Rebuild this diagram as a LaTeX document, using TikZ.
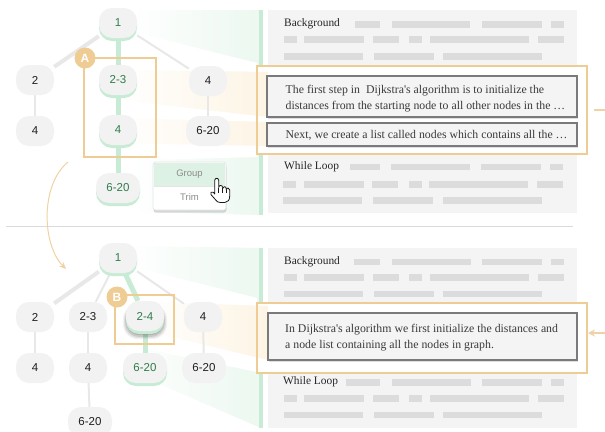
\documentclass[tikz,border=0pt]{standalone}
\usepackage{fontspec}
\setmainfont{Liberation Serif}
\setsansfont{Liberation Sans}
\usetikzlibrary{shadows,arrows.meta,calc}
\definecolor{ngray}{HTML}{F2F2F2}
\definecolor{gline}{HTML}{C8EBD6}
\definecolor{gtext}{HTML}{2F7D4A}
\definecolor{egray}{HTML}{E8E8E8}
\definecolor{org}{HTML}{EFCC94}
\definecolor{panel}{HTML}{F4F4F4}
\definecolor{pbar}{HTML}{DCDCDC}
\definecolor{tbord}{HTML}{7A7A7A}
\definecolor{ttext}{HTML}{3A3A3A}
\definecolor{lorange}{HTML}{FDF4E4}
\definecolor{lgreen}{HTML}{ECF8F0}
\definecolor{mgreen}{HTML}{DDF1E4}
\definecolor{carrow}{HTML}{F0D2A4}
\pgfdeclarelayer{back}
\pgfdeclarelayer{bands}
\pgfdeclarelayer{edges}
\pgfsetlayers{back,bands,edges,main}
% gradient fill of a polygon: #1 path, #2 x from, #3 x to, #4 colour
\newcommand\gradfill[4]{%
  \begin{scope}
  \clip #1;
  \foreach \i in {0,...,23}{%
    \pgfmathsetmacro\xa{#2+(#3-#2)*\i/24}%
    \pgfmathsetmacro\xb{#2+(#3-#2)*(\i+1)/24+0.6}%
    \pgfmathtruncatemacro\pc{(\i+1)*100/24}%
    \fill[#4!\pc!white] (\xa,0) rectangle (\xb,431);
  }
  \end{scope}}
\tikzset{
  tn/.style={rectangle, rounded corners=13pt, fill=ngray, minimum width=38pt, minimum height=30pt,
    inner sep=0pt, font=\sffamily\fontsize{11.5}{13}\selectfont, text=black!88},
  wide/.style={minimum width=44pt},
  gn/.style={tn, text=gtext, general shadow={fill=gline, shadow yshift=-3pt}},
  gnd/.style={tn, text=gtext,
    drop shadow={shadow xshift=0pt, shadow yshift=-5pt, shadow scale=1.16, opacity=0.05, fill=black},
    drop shadow={shadow xshift=0pt, shadow yshift=-5pt, shadow scale=1.10, opacity=0.07, fill=black},
    drop shadow={shadow xshift=0pt, shadow yshift=-5pt, shadow scale=1.04, opacity=0.10, fill=black},
    drop shadow={shadow xshift=0pt, shadow yshift=-4.5pt, shadow scale=0.98, opacity=0.12, fill=black},
    general shadow={fill=gline, shadow yshift=-3pt}},
  thick edge/.style={draw=egray, line width=4pt},
  thin edge/.style={draw=egray, line width=2pt},
  green edge/.style={draw=gline, line width=5pt},
  obox/.style={draw=org, line width=2.5pt, inner sep=0pt},
  hlfill/.style={fill=white, inner sep=0pt},
  badge/.style={circle, fill=org, minimum size=21pt, inner sep=0pt, text=white,
    font=\sffamily\bfseries\fontsize{12}{12}\selectfont},
  tbox/.style={draw=tbord, line width=1.3pt, fill=panel, inner sep=0pt,
    drop shadow={shadow xshift=0.8pt, shadow yshift=-1.5pt, opacity=0.25}},
  ttxt/.style={anchor=west, align=left, inner sep=0pt, text=ttext,
    font=\fontsize{11.8}{16.6}\selectfont},
  hdr/.style={anchor=west, inner sep=0pt, text=black!85, font=\fontsize{11.4}{13}\selectfont},
  gbar/.style={draw=gline, line width=3.5pt},
  menuitem/.style={inner sep=0pt, minimum width=71pt, minimum height=23pt, text=black!45,
    font=\sffamily\fontsize{9.5}{11}\selectfont},
  arrowc/.style={draw=carrow, line width=1pt, -{Stealth[length=7pt,width=6pt]}},
}
\begin{document}
\begin{tikzpicture}[x=1pt,y=-1pt]
\useasboundingbox (0,0) rectangle (605,431);

\begin{pgfonlayer}{back}
\fill[white] (0,0) rectangle (605,431);
% funnels
\gradfill{(133,10) -- (261,10) -- (261,215) -- (140,212) -- cycle}{133}{261}{lgreen}
\fill[white] (137,33) -- (257,63) -- (257,157) -- (150,160) -- (137,150) -- cycle;
\gradfill{(128,246) -- (261,248) -- (261,428) -- (150,380) -- cycle}{128}{261}{lgreen}
\fill[white] (138,268) -- (257,298) -- (257,372) -- (160,352) -- (138,345) -- cycle;
% panels
\fill[panel] (268,10) rectangle (577,213);
\fill[panel] (268,248) rectangle (577,428);
\draw[gbar] (261,10) -- (261,215);
\draw[gbar] (261,248) -- (261,428);
% placeholder bars
\foreach \y/\list in {
  21/{355/380,392/470,482/542,551/564},
  36/{284/297,304/364,373/399,409/422,430/529,538/564},
  53/{284/363,374/434,443/542},
  163.5/{350/380,391/470,481/541,550/563},
  181/{283/296,304/364,372/398,409/422,429/528,537/563},
  197/{283/362,373/433,443/542},
  258.7/{354/380,392/471,482/542,551/564},
  274.3/{284/297,304/364,373/399,409/422,430/529,538/564},
  290.7/{284/363,374/434,443/542},
  379.3/{346/380,392/471,482/542,551/564},
  395/{284/297,304/364,373/399,409/422,430/529,538/564},
  411.7/{284/363,374/434,443/542}}{
  \foreach \a/\b in \list { \fill[pbar] (\a,\y) rectangle (\b,\y+6.5); }
}
% highlight box backgrounds
\node[hlfill, minimum width=330pt, minimum height=88pt] (hlA) at (422,110) {};
\node[hlfill, minimum width=330pt, minimum height=70pt] (hlB) at (422,338) {};
\end{pgfonlayer}

\begin{pgfonlayer}{bands}
\gradfill{(120,70) -- (268,72) -- (268,117) -- (120,100) -- cycle}{120}{268}{lorange}
\gradfill{(120,118) -- (268,122) -- (268,146) -- (120,143) -- cycle}{120}{268}{lorange}
\gradfill{(148,302) -- (268,306) -- (268,360) -- (148,331) -- cycle}{148}{268}{lorange}
\end{pgfonlayer}

\node[hdr] (bg1) at (284,23.5) {Background};
\node[hdr] (wl1) at (284,167) {While Loop};
\node[hdr] (bg2) at (284,261.5) {Background};
\node[hdr] (wl2) at (283,382) {While Loop};

% ---------- top tree ----------
\node[gn] (t1) at (118,23) {1};
\node[tn] (t2) at (35,80) {2};
\node[tn] (t6) at (35,131) {4};
\node[gn] (t3) at (118,80) {2-3};
\node[gn] (t4) at (118,130) {4};
\node[gn, wide] (t5) at (118,188) {6-20};
\node[tn] (t7) at (208,81) {4};
\node[tn, wide] (t8) at (208,131) {6-20};
\begin{pgfonlayer}{edges}
\draw[thick edge] (t1) -- (t2);
\draw[green edge] (t1) -- (t3);
\draw[thin edge] (t1) -- (t7);
\draw[thin edge] (t2) -- (t6);
\draw[green edge] (t3) -- (t4);
\draw[green edge] (t4) -- (t5);
\draw[thin edge] (t7) -- (t8);
\end{pgfonlayer}

\node[obox, minimum width=72pt, minimum height=99pt] (boxA) at (120,107.5) {};
\node[badge] (bA) at (85,58) {A};

% ---------- bottom tree ----------
\node[gn] (b1) at (118,258) {1};
\node[tn] (b2) at (35,317) {2};
\node[tn] (b3) at (88,317) {2-3};
\node[tn] (b5) at (203,317) {4};
\node[tn] (b6) at (35,368) {4};
\node[tn] (b7) at (88,368) {4};
\node[gn, wide] (b8) at (145,368) {6-20};
\node[gnd] (b4) at (145,316) {2-4};
\node[tn, wide] (b9) at (204,368) {6-20};
\node[tn, wide] (b10) at (90,422) {6-20};
\begin{pgfonlayer}{edges}
\draw[thick edge] (b1) -- (b2);
\draw[thin edge] (b1) -- (b3);
\draw[green edge] (b1) -- (b4);
\draw[thin edge] (b1) -- (b5);
\draw[thin edge] (b2) -- (b6);
\draw[thin edge] (b3) -- (b7);
\draw[thin edge] (b7) -- (b10);
\draw[green edge] (b4) -- (b8);
\draw[thin edge] (b5) -- (b9);
\end{pgfonlayer}

\node[obox, minimum width=59pt, minimum height=49pt] (boxB) at (144.5,319.5) {};
\node[badge] (bB) at (117,297) {B};

% ---------- text boxes ----------
\node[tbox, minimum width=310pt, minimum height=41pt] (tb1) at (422,96.5) {};
\node[tbox, minimum width=310pt, minimum height=23pt] (tb2) at (422,134.5) {};
\node[tbox, minimum width=309pt, minimum height=47pt] (tb3) at (422.5,336.5) {};
\node[ttxt] (tx1) at (285.5,98.6) {The first step in\ \ Dijkstra\textquotesingle s algorithm is to initialize the\\distances from the starting node to all other nodes in the \ldots};
\node[ttxt] (tx2) at (285.5,135.2) {Next, we create a list called nodes which contains all the \ldots};
\node[ttxt] (tx3) at (285,337.5) {In Dijkstra\textquotesingle s algorithm we first initialize the distances and\\a node list containing all the nodes in graph.};

\draw[org, line width=2.5pt] (hlA.north west) rectangle (hlA.south east);
\draw[org, line width=2.5pt] (hlB.north west) rectangle (hlB.south east);

% ---------- popup menu ----------
\node[fill=white, draw=black!10, line width=0.6pt, rounded corners=2.5pt, minimum width=73pt, minimum height=48pt,
  drop shadow={shadow xshift=0.5pt, shadow yshift=-2.5pt, opacity=0.3}] (menu) at (189.5,186) {};
\node[menuitem, fill=mgreen] (grp) at (189.5,174.3) {Group};
\node[menuitem] (trim) at (189.5,197.5) {Trim};
\draw[black!10, line width=0.6pt] (grp.south west) -- (grp.south east);

% hand cursor
\begin{scope}[shift={(209.7,178)}]
\draw[fill=white, draw=black!90, line width=0.8pt, line join=round]
 (5,16) -- (5,2.5) .. controls (5,-0.5) and (9,-0.5) .. (9,2.5)
 -- (9,9.5) .. controls (9,6.8) and (13,6.8) .. (13,9.5)
 -- (13,10.3) .. controls (13,8) and (16.5,8) .. (16.5,10.8)
 -- (16.5,11.5) .. controls (16.5,9.3) and (20,9.3) .. (20,12)
 -- (20,18) .. controls (20,22) and (18,24.5) .. (15,24.5)
 -- (10.5,24.5) .. controls (8.5,24.5) and (7.2,23.6) .. (6.2,22.2)
 -- (1.2,16.5) .. controls (0,15) and (2,12.6) .. (3.6,14.2)
 -- cycle;
\draw[line width=0.6pt, draw=black!90] (9,9.5) -- (9,14.5) (13,10.3) -- (13,14.5) (16.5,11.5) -- (16.5,14.5);
\end{scope}

% ---------- connectors ----------
\draw[black!14, line width=1pt] (6,226.5) coordinate (d1) -- (573,226.5) coordinate (d2);
\coordinate (ca1) at (68,162);
\coordinate (ca2) at (66,269);
\draw[arrowc] (ca1) .. controls (40,185) and (42,245) .. (ca2);
\coordinate (ra1) at (594,110);
\coordinate (ra2) at (606,110);
\draw[carrow, line width=1.3pt] (ra1) -- (ra2);
\coordinate (rb1) at (606,333);
\coordinate (rb2) at (588,333);
\draw[carrow, line width=1.3pt, -{Stealth[length=7pt,width=7pt]}] (rb1) -- (rb2);
\end{tikzpicture}
\end{document}
